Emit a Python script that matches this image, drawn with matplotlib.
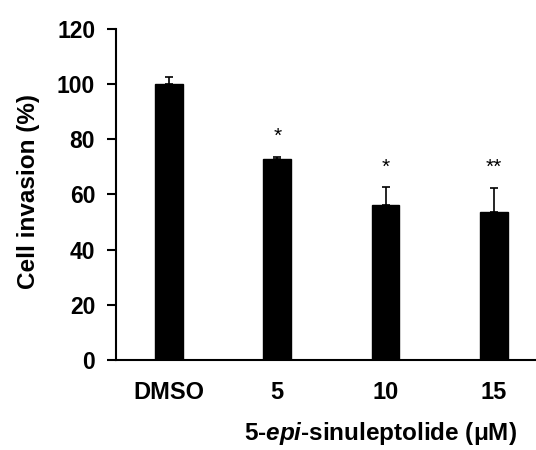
import matplotlib
matplotlib.use("Agg")
import matplotlib.pyplot as plt

# data
groups = ["DMSO", "5", "10", "15"]
invasion = [100, 72.9, 56.2, 53.8]
sd = [2.7, 0.6, 6.5, 8.5]
stars = ["", "*", "*", "**"]
star_y = [0, 79, 68, 68]

plt.rcParams["font.family"] = ["Liberation Sans", "DejaVu Sans"]
plt.rcParams["font.weight"] = "bold"
plt.rcParams["mathtext.fontset"] = "custom"
plt.rcParams["mathtext.it"] = "Liberation Sans:italic:bold"
plt.rcParams["mathtext.rm"] = "Liberation Sans:bold"

fig = plt.figure(figsize=(5.36, 4.5), dpi=100)
ax = fig.add_axes([0.2164, 0.2, 0.7836, 0.7356])

x = list(range(len(groups)))
ax.bar(x, invasion, width=0.255, color="black", edgecolor="black",
       yerr=[[0] * len(sd), sd], capsize=3,
       error_kw=dict(elinewidth=1.2, capthick=1.2, ecolor="black"))

for xi, s, yy in zip(x, stars, star_y):
    if s:
        ax.text(xi, yy, s, ha="center", va="baseline", fontsize=15, fontweight="normal")

ax.set_xlim(-0.49, 3.39)
ax.set_ylim(0, 120)
ax.set_yticks(range(0, 121, 20))
ax.set_xticks(x)
ax.set_xticklabels(groups)
ax.tick_params(axis="x", length=0, pad=15, labelsize=17)
ax.tick_params(axis="y", length=6.5, width=1.5, labelsize=16.5, pad=8.5)
for lab in ax.get_xticklabels() + ax.get_yticklabels():
    lab.set_fontweight("bold")

ax.spines["top"].set_visible(False)
ax.spines["right"].set_visible(False)
ax.spines["left"].set_linewidth(1.5)
ax.spines["bottom"].set_linewidth(1.5)

ax.set_ylabel("Cell invasion (%)", fontsize=17.5, fontweight="bold")
ax.yaxis.set_label_coords(-0.18, 0.51)
ax.set_xlabel(r"5-$\mathit{epi}$-sinuleptolide (μM)", fontsize=17.5, fontweight="bold")
ax.xaxis.set_label_coords(0.629, -0.181)

fig.savefig("out.png", dpi=100)
